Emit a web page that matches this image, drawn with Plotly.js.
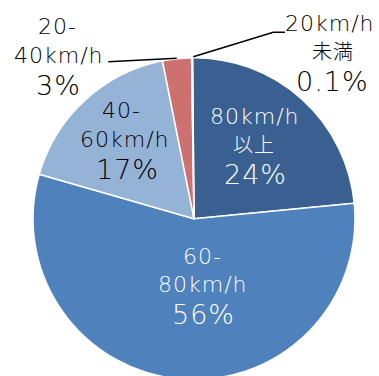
<!DOCTYPE html>
<html>
<head>
<meta charset="utf-8">
<script src="https://cdn.plot.ly/plotly-3.0.1.min.js"></script>
<style>
  html, body { margin: 0; padding: 0; overflow: hidden; background: #fff; }
  #chart { width: 379px; height: 382px; }
  .annotation-text { letter-spacing: 1px; }
</style>
</head>
<body>
<div id="chart"></div>
<script>
// Data
const categories = ["80km/h以上", "60-80km/h", "40-60km/h", "20-40km/h", "20km/h未満"];
const shares = [23.6, 56.0, 17.4, 2.9, 0.1];
const shareLabels = ["24%", "56%", "17%", "3%", "0.1%"];
const categoryLines = [["80km/h", "以上"], ["60-", "80km/h"], ["40-", "60km/h"], ["20-", "40km/h"], ["20km/h", "未満"]];
const sliceColors = ["#3A6091", "#4F81BD", "#95B3D7", "#CF7070", "#9BBB59"];

const W = 379, H = 382;
const px = x => x / W;
const py = y => 1 - y / H;
const FAM = "DejaVu Sans, Noto Sans CJK JP, sans-serif";

// label layout: [line positions in pixels], text colour
const labelPos = [
  {lines: [[254.5, 116], [254, 145]], pct: [255, 174], color: "#ffffff"},
  {lines: [[202.7, 256.7], [202.5, 284]], pct: [203.3, 314], color: "#ffffff"},
  {lines: [[121.7, 110.7], [125.3, 139.3]], pct: [127, 169.3], color: "#000000"},
  {lines: [[57.5, 26.7], [59, 55]], pct: [58.3, 85], color: "#000000"},
  {lines: [[330, 23.3], [333, 51.7]], pct: [332, 81.7], color: "#000000"}
];

const annotations = [];
categories.forEach((c, i) => {
  const lp = labelPos[i];
  categoryLines[i].forEach((t, j) => {
    const cjk = /[^\x00-\x7F]/.test(t);
    annotations.push({
      xref: "paper", yref: "paper", x: px(lp.lines[j][0]), y: py(lp.lines[j][1]),
      xanchor: "center", yanchor: "middle", showarrow: false, text: t,
      font: {family: FAM, size: cjk ? 20 : 22, color: lp.color, weight: 300}
    });
  });
  annotations.push({
    xref: "paper", yref: "paper", x: px(lp.pct[0]), y: py(lp.pct[1]),
    xanchor: "center", yanchor: "middle", showarrow: false, text: shareLabels[i],
    font: {family: FAM, size: 27, color: lp.color, weight: 300}
  });
});

const shapes = [
  {type: "path", xref: "paper", yref: "paper",
   path: `M ${px(108.3)} ${py(61.7)} L ${px(176.7)} ${py(58.3)}`,
   line: {color: "#000", width: 1.6}},
  {type: "path", xref: "paper", yref: "paper",
   path: `M ${px(193.3)} ${py(56.7)} L ${px(273.3)} ${py(32.3)} L ${px(285)} ${py(32.3)}`,
   line: {color: "#000", width: 1.6}}
];

const trace = {
  type: "pie",
  labels: categories,
  values: shares,
  sort: false,
  direction: "clockwise",
  rotation: -0.5,
  marker: {colors: sliceColors, line: {color: "#ffffff", width: 1.5}},
  textinfo: "none",
  hoverinfo: "none",
  showlegend: false,
  domain: {x: [px(33), px(355)], y: [py(379.7), py(57.7)]}
};

const layout = {
  width: W, height: H,
  margin: {l: 0, r: 0, t: 0, b: 0, pad: 0},
  paper_bgcolor: "#ffffff",
  plot_bgcolor: "#ffffff",
  showlegend: false,
  annotations: annotations,
  shapes: shapes
};

Plotly.newPlot("chart", [trace], layout, {displayModeBar: false, staticPlot: true});
</script>
</body>
</html>
